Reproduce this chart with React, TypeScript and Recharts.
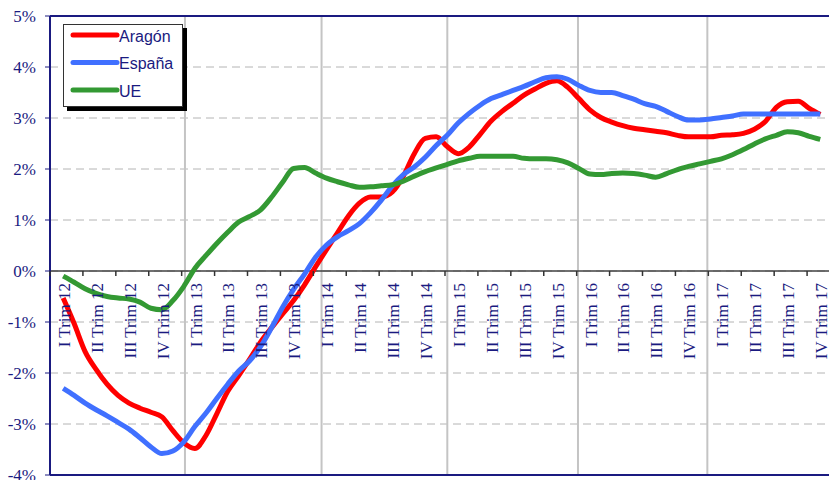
import {
  LineChart,
  Line,
  XAxis,
  YAxis,
  CartesianGrid,
  ReferenceLine,
  Legend,
} from "recharts";

const quarterLabels = [
  "I Trim 12", "II Trim 12", "III Trim 12", "IV Trim 12",
  "I Trim 13", "II Trim 13", "III Trim 13", "IV Trim 13",
  "I Trim 14", "II Trim 14", "III Trim 14", "IV Trim 14",
  "I Trim 15", "II Trim 15", "III Trim 15", "IV Trim 15",
  "I Trim 16", "II Trim 16", "III Trim 16", "IV Trim 16",
  "I Trim 17", "II Trim 17", "III Trim 17", "IV Trim 17",
];

const yTicks = [-4, -3, -2, -1, 0, 1, 2, 3, 4, 5];

// separators between years (in quarters from I Trim 12)
const yearLines = [4.1, 8.25, 12.07, 16.04, 19.97];

// monthly observations, first one a little into I Trim 12
const aragon = [
  -0.53, -1.03, -1.58, -1.93, -2.22, -2.44, -2.59, -2.69, -2.77, -2.86,
  -3.13, -3.37, -3.48, -3.23, -2.8, -2.36, -2.05, -1.73, -1.39, -1.11,
  -0.84, -0.58, -0.27, 0.08, 0.42, 0.75, 1.08, 1.33, 1.45, 1.45,
  1.55, 1.86, 2.3, 2.6, 2.63, 2.44, 2.3, 2.43, 2.68, 2.94,
  3.13, 3.29, 3.45, 3.57, 3.68, 3.73, 3.6, 3.38, 3.16, 3.01,
  2.92, 2.85, 2.8, 2.77, 2.74, 2.71, 2.66, 2.63, 2.63, 2.63,
  2.66, 2.67, 2.7, 2.78, 2.93, 3.21, 3.32, 3.33, 3.19, 3.07,
];

const espana = [
  -2.3, -2.44, -2.59, -2.72, -2.84, -2.97, -3.1, -3.27, -3.45, -3.58,
  -3.53, -3.35, -3.05, -2.79, -2.5, -2.22, -1.96, -1.76, -1.48, -1.11,
  -0.71, -0.36, -0.06, 0.27, 0.51, 0.67, 0.79, 0.93, 1.14, 1.39,
  1.67, 1.89, 2.04, 2.23, 2.46, 2.66, 2.9, 3.09, 3.25, 3.38,
  3.46, 3.54, 3.62, 3.71, 3.79, 3.81, 3.76, 3.64, 3.54, 3.5,
  3.5, 3.44, 3.37, 3.28, 3.23, 3.13, 3.03, 2.96, 2.96, 2.98,
  3.01, 3.04, 3.08, 3.08, 3.08, 3.08, 3.08, 3.08, 3.08, 3.08,
];

const ue = [
  -0.1, -0.22, -0.35, -0.44, -0.5, -0.53, -0.55, -0.61, -0.73, -0.76,
  -0.58, -0.3, 0.05, 0.3, 0.54, 0.76, 0.96, 1.07, 1.2, 1.45,
  1.74, 2.01, 2.03, 1.92, 1.82, 1.75, 1.69, 1.64, 1.65, 1.67,
  1.69, 1.76, 1.86, 1.95, 2.02, 2.09, 2.16, 2.21, 2.25, 2.25,
  2.25, 2.25, 2.21, 2.2, 2.2, 2.18, 2.12, 2.01, 1.9, 1.89,
  1.91, 1.92, 1.91, 1.88, 1.84, 1.91, 1.99, 2.05, 2.1, 2.15,
  2.2, 2.28, 2.38, 2.49, 2.59, 2.66, 2.73, 2.71, 2.64, 2.58,
];

const series = [
  { key: "aragon", name: "Aragón", color: "#ff0000" },
  { key: "espana", name: "España", color: "#4070ff" },
  { key: "ue", name: "UE", color: "#339933" },
];

const FIRST_POS = 0.4;
const MONTH = 1 / 3;

const data = aragon.map((v, i) => ({
  x: FIRST_POS + i * MONTH,
  aragon: v,
  espana: espana[i],
  ue: ue[i],
}));

const axisTicks = Array.from({ length: quarterLabels.length * 2 + 1 }, (_, i) => i / 2);

const CHART_W = 850;
const CHART_H = 480;
const AXIS_H = 1;
const MARGIN = { top: 16, right: 10, bottom: 4, left: 0 };
const Y_MIN = -4;
const Y_MAX = 5;
const PLOT_H = CHART_H - MARGIN.top - MARGIN.bottom - AXIS_H;
const Y_ZERO = MARGIN.top + (PLOT_H * Y_MAX) / (Y_MAX - Y_MIN);

const NAVY = "#1a1a80";
const SERIF = "'Liberation Serif', 'Times New Roman', serif";
const SANS = "'Liberation Sans', Arial, sans-serif";

function QuarterTick(props: any) {
  const { x, payload } = props;
  const v = payload.value;
  if (Number.isInteger(v)) {
    return <line x1={x} x2={x} y1={Y_ZERO} y2={Y_ZERO + 5} stroke="#333" strokeWidth={1.5} />;
  }
  const ty = Y_ZERO + 12;
  return (
    <text
      x={x}
      y={ty}
      transform={`rotate(-90 ${x} ${ty})`}
      textAnchor="end"
      dy="0.2em"
      fill={NAVY}
      fontSize={17}
      fontFamily={SERIF}
    >
      {quarterLabels[Math.floor(v)]}
    </text>
  );
}

function ChartLegend() {
  return (
    <svg width={128} height={92} style={{ display: "block" }}>
      <rect x={4} y={4} width={120} height={83} fill="#000" />
      <rect x={0.5} y={0.5} width={119} height={82} fill="#fff" stroke="#333" />
      {series.map((s, i) => (
        <g key={s.key}>
          <line
            x1={10}
            x2={54}
            y1={11 + i * 27.5}
            y2={11 + i * 27.5}
            stroke={s.color}
            strokeWidth={5}
            strokeLinecap="round"
          />
          <text x={56} y={17.5 + i * 27.5} fill={NAVY} fontSize={16} fontFamily={SANS}>
            {s.name}
          </text>
        </g>
      ))}
    </svg>
  );
}

export default function App() {
  return (
    <div
      style={{
        position: "fixed",
        left: 0,
        top: 0,
        width: 829,
        height: 480,
        overflow: "hidden",
        background: "#fff",
      }}
    >
      <LineChart width={CHART_W} height={CHART_H} data={data} margin={MARGIN}>
        <CartesianGrid vertical={false} stroke="#b4b4b4" strokeDasharray="8 5" />
        <XAxis
          type="number"
          dataKey="x"
          domain={[0, quarterLabels.length]}
          ticks={axisTicks}
          interval={0}
          tick={(p: any) => <QuarterTick {...p} />}
          axisLine={false}
          tickLine={false}
          height={AXIS_H}
        />
        <YAxis
          type="number"
          domain={[Y_MIN, Y_MAX]}
          ticks={yTicks}
          interval={0}
          width={50}
          tickFormatter={(v) => `${v}%`}
          tick={{ fill: NAVY, fontSize: 17, fontFamily: SERIF }}
          tickSize={5}
          tickMargin={9}
          axisLine={{ stroke: NAVY, strokeWidth: 2 }}
          tickLine={{ stroke: NAVY }}
        />
        {yearLines.map((v) => (
          <ReferenceLine key={v} x={v} stroke="#c4c4c4" strokeWidth={2} />
        ))}
        <ReferenceLine y={0} stroke="#404040" strokeWidth={1.5} />
        <ReferenceLine y={Y_MAX} stroke={NAVY} strokeWidth={2} />
        <ReferenceLine y={Y_MIN} stroke={NAVY} strokeWidth={2} />
        <Legend
          layout="vertical"
          align="center"
          verticalAlign="middle"
          content={() => <ChartLegend />}
          wrapperStyle={{ left: 63, top: 24, width: 130, height: 95 }}
        />
        {series.map((s) => (
          <Line
            key={s.key}
            type="monotone"
            dataKey={s.key}
            name={s.name}
            stroke={s.color}
            strokeWidth={5}
            strokeLinejoin="round"
            dot={false}
            isAnimationActive={false}
          />
        ))}
      </LineChart>
    </div>
  );
}
